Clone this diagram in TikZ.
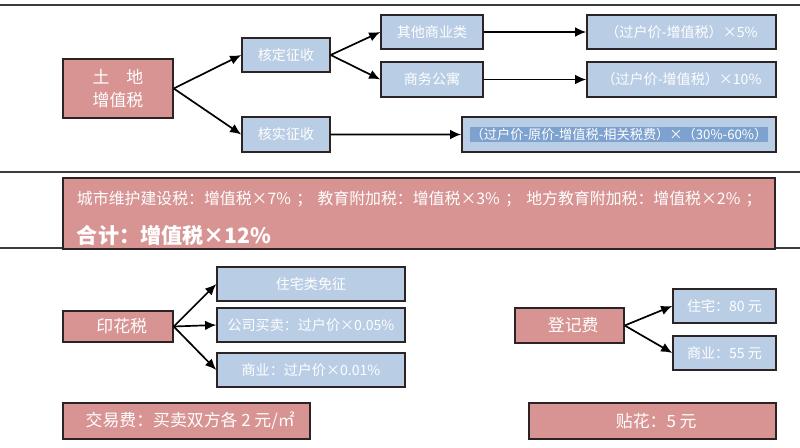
\documentclass[tikz,border=0pt]{standalone}
\usepackage{fontspec}
\usetikzlibrary{arrows.meta}
\newfontfamily\cjk{Noto Sans CJK SC}
\definecolor{Rose}{HTML}{D89493}
\definecolor{Sky}{HTML}{B9CDE5}
\definecolor{Mark}{HTML}{7EA2CF}
\definecolor{Edge}{HTML}{2B2324}
\definecolor{Rule}{HTML}{3C3C3C}
\tikzset{
  taxbox/.style={
    draw=Edge, line width=1pt, fill=Rose, text=white,
    inner sep=1pt, align=center, font=\cjk\fontsize{12}{16}\selectfont
  },
  itembox/.style={
    draw=Edge, line width=1pt, fill=Sky, text=white,
    inner sep=1pt, align=center, font=\cjk\fontsize{10}{12}\selectfont
  },
  flow/.style={-{Latex[length=2.8mm,width=2.4mm]}, line width=1.2pt, draw=black},
  sepline/.style={line width=1.1pt, draw=Rule}
}

\begin{document}
\begin{tikzpicture}[x=1cm,y=1cm]
    \useasboundingbox[fill=white] (0,0) rectangle (20,11.2);
    % separators
    \draw[sepline] (0,11.075) -- (20,11.075);
    \draw[sepline] (0,6.9) -- (20,6.9);
    \draw[sepline] (0,5.0) -- (20,5.0);

    % land VAT
    \node[taxbox,minimum width=2.75cm,minimum height=1.475cm] (land) at (2.95,8.988)
      {土\quad 地\\增值税};
    \node[itembox,minimum width=2.2cm,minimum height=0.85cm] (fixed) at (7.15,9.825) {核定征收};
    \node[itembox,minimum width=2.2cm,minimum height=0.875cm] (audit) at (7.15,7.837) {核实征收};
    \node[itembox,minimum width=2.55cm,minimum height=0.85cm] (other) at (10.8,10.4) {其他商业类};
    \node[itembox,minimum width=2.55cm,minimum height=0.875cm] (apart) at (10.8,9.2125) {商务公寓};
    \node[itembox,minimum width=4.725cm,minimum height=0.85cm] (rfive) at (17.0375,10.4)
      {（过户价-增值税）×5\%};
    \node[itembox,minimum width=4.725cm,minimum height=0.875cm] (rten) at (17.0375,9.2125)
      {（过户价-增值税）×10\%};
    \node[itembox,minimum width=7.85cm,minimum height=0.875cm,
      font=\cjk\fontsize{9.4}{12}\selectfont] (rgap) at (15.475,7.8375)
      {\setlength{\fboxsep}{0.6pt}\colorbox{Mark}{（过户价-原价-增值税-相关税费）×（30\%-60\%）}};

    \draw[flow] (land.east) -- (fixed.west);
    \draw[flow] (land.east) -- (audit.west);
    \draw[flow] (fixed.east) -- (other.west);
    \draw[flow] (fixed.east) -- (apart.west);
    \draw[flow] (other.east) -- (rfive.west);
    \draw[flow] (apart.east) -- (rten.west);
    \draw[flow] (audit.east) -- (rgap.west);

    % surcharges
    \node[taxbox,minimum width=17.8cm,minimum height=1.775cm,text width=17.5cm,
      align=left,font=\cjk\fontsize{11.3}{14}\selectfont] (extra) at (10.475,5.8625)
      {\rule{0pt}{17pt}\hspace*{0.2cm}城市维护建设税：增值税×7\% ；\ 教育附加税：增值税×3\% ；\ 地方教育附加税：增值税×2\% ；\\[12pt]
       \hspace*{0.2cm}{\fontsize{15}{17}\selectfont\bfseries 合计：增值税×12\%}};

    % stamp duty and fees
    \node[taxbox,minimum width=2.75cm,minimum height=0.775cm] (stamp) at (2.95,3.0375) {\ \ 印花税};
    \node[itembox,minimum width=4.7cm,minimum height=0.85cm] (home) at (7.775,4.1) {住宅类免征};
    \node[itembox,minimum width=4.7cm,minimum height=0.85cm] (firm) at (7.775,3.075)
      {公司买卖：过户价×0.05\%};
    \node[itembox,minimum width=4.7cm,minimum height=0.85cm] (shop) at (7.775,1.95)
      {商业：过户价×0.01\%};
    \node[taxbox,minimum width=6.175cm,minimum height=0.9cm] (trade) at (4.6625,0.675)
      {\ \ 交易费：买卖双方各 2 元/㎡};
    \node[taxbox,minimum width=2.725cm,minimum height=0.875cm] (reg) at (14.2375,3.0625) {\ \ 登记费};
    \node[itembox,minimum width=2.575cm,minimum height=0.85cm] (rhome) at (18.1125,3.55) {住宅：80 元};
    \node[itembox,minimum width=2.575cm,minimum height=0.85cm] (rshop) at (18.1125,2.375) {商业：55 元};
    \node[taxbox,minimum width=6.175cm,minimum height=0.9cm] (seal) at (16.3125,0.675) {\ \ 贴花：5 元};

    \draw[flow] (stamp.east) -- (home.west);
    \draw[flow] (stamp.east) -- (firm.west);
    \draw[flow] (stamp.east) -- (shop.west);
    \draw[flow] (reg.east) -- (rhome.west);
    \draw[flow] (reg.east) -- (rshop.west);
\end{tikzpicture}
\end{document}
